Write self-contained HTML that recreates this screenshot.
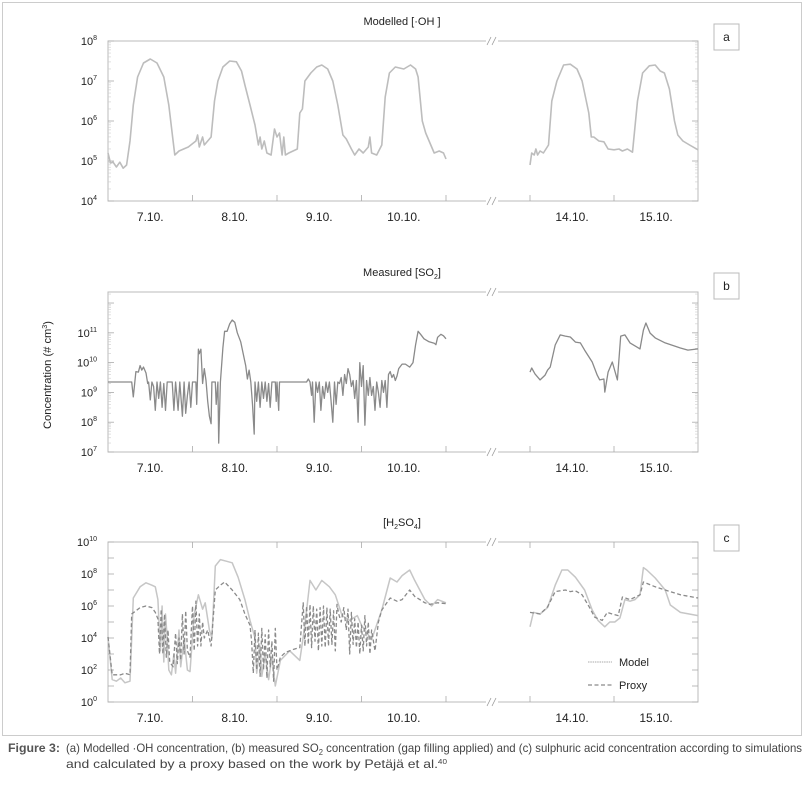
<!DOCTYPE html>
<html><head><meta charset="utf-8"><style>
html,body{margin:0;padding:0;background:#fff;}
body{width:804px;height:796px;overflow:hidden;font-family:"Liberation Sans Narrow","Liberation Sans",sans-serif;}
svg text{font-family:"Liberation Sans Narrow","Liberation Sans",sans-serif;fill:#222;}
</style></head><body>
<svg id="fig" width="804" height="796" viewBox="0 0 804 796" xmlns="http://www.w3.org/2000/svg">
<rect x="2.5" y="2.5" width="799" height="733" fill="none" stroke="#ccc"/>
<text x="8" y="752" font-size="12" font-weight="bold" textLength="52" lengthAdjust="spacingAndGlyphs" style="fill:#555">Figure 3:</text>
<text x="66" y="752" font-size="12" textLength="736" lengthAdjust="spacingAndGlyphs" style="fill:#444">(a) Modelled ·OH concentration, (b) measured SO<tspan font-size="8" dy="3">2</tspan><tspan dy="-3"> concentration (gap filling applied) and (c) sulphuric acid concentration according to simulations</tspan></text>
<text x="66" y="768" font-size="12" textLength="381" lengthAdjust="spacingAndGlyphs" style="fill:#444">and calculated by a proxy based on the work by Petäjä et al.<tspan font-size="7" dy="-4">40</tspan></text>
<text transform="translate(51,375) rotate(-90)" text-anchor="middle" font-size="11" textLength="108" lengthAdjust="spacingAndGlyphs">Concentration (# cm<tspan font-size="7" dy="-4">3</tspan><tspan dy="4">)</tspan></text>
<g id="panels"></g>
</svg>
<script>
// ---- data (t in days of October, values log10 concentration) ----
const dayLabels = ["7.10.","8.10.","9.10.","10.10.","14.10.","15.10."];
const dayLabelPos = [7.5,8.5,9.5,10.5,14.5,15.5];
const ohT1 = [7.00,7.03,7.06,7.10,7.14,7.18,7.22,7.26,7.30,7.35,7.42,7.50,7.58,7.66,7.72,7.77,7.79,7.84,7.95,8.04,8.06,8.08,8.12,8.14,8.20,8.22,8.26,8.30,8.36,8.44,8.52,8.58,8.62,8.68,8.74,8.78,8.80,8.82,8.85,8.88,8.93,8.97,9.00,9.03,9.06,9.08,9.10,9.14,9.24,9.27,9.30,9.33,9.40,9.47,9.53,9.60,9.66,9.72,9.78,9.82,9.88,9.92,9.97,10.02,10.08,10.10,10.12,10.18,10.24,10.28,10.33,10.40,10.50,10.58,10.64,10.67,10.72,10.76,10.80,10.86,10.92,10.97,11.00];
const ohV1 = [5.2,4.95,4.97,4.85,4.97,4.82,4.9,5.5,6.4,7.1,7.45,7.55,7.45,7.1,6.4,5.5,5.15,5.25,5.35,5.5,5.65,5.35,5.6,5.4,5.55,5.6,6.5,7.0,7.35,7.5,7.48,7.25,6.9,6.4,5.9,5.4,5.6,5.3,5.5,5.2,5.15,5.8,5.6,5.7,5.15,5.6,5.15,5.2,5.3,6.2,6.3,7.0,7.2,7.35,7.4,7.3,7.0,6.4,5.65,5.55,5.3,5.15,5.3,5.2,5.35,5.6,5.2,5.15,5.4,6.6,7.2,7.35,7.3,7.4,7.3,7.1,6.0,5.7,5.5,5.2,5.25,5.2,5.05];
const ohT2 = [14.00,14.02,14.05,14.07,14.09,14.12,14.16,14.22,14.26,14.32,14.40,14.48,14.56,14.62,14.70,14.73,14.76,14.82,14.88,14.93,15.00,15.06,15.10,15.16,15.22,15.28,15.34,15.42,15.49,15.55,15.60,15.66,15.72,15.76,15.82,15.90,16.00];
const ohV2 = [4.9,5.2,5.15,5.3,5.15,5.25,5.2,5.4,6.5,7.0,7.4,7.42,7.3,7.0,6.2,5.6,5.6,5.5,5.48,5.3,5.28,5.3,5.25,5.3,5.22,6.5,7.2,7.38,7.4,7.25,7.2,6.8,6.0,5.65,5.5,5.4,5.28];
const so2T1 = [7.00,7.28,7.30,7.33,7.36,7.38,7.40,7.42,7.45,7.47,7.48,7.50,7.52,7.54,7.56,7.58,7.60,7.62,7.64,7.66,7.68,7.70,7.76,7.78,7.80,7.83,7.85,7.88,7.90,7.92,7.94,7.96,7.98,8.00,8.04,8.05,8.07,8.08,8.10,8.12,8.14,8.16,8.18,8.20,8.22,8.23,8.27,8.28,8.30,8.31,8.33,8.36,8.38,8.41,8.44,8.47,8.50,8.53,8.57,8.60,8.63,8.65,8.67,8.69,8.71,8.73,8.74,8.76,8.78,8.80,8.82,8.84,8.86,8.88,8.90,8.92,8.94,8.98,8.99,9.00,9.02,9.03,9.35,9.37,9.39,9.41,9.42,9.44,9.46,9.48,9.50,9.52,9.54,9.56,9.58,9.60,9.62,9.64,9.66,9.68,9.70,9.72,9.74,9.76,9.78,9.80,9.82,9.84,9.86,9.88,9.90,9.92,9.94,9.96,9.98,10.00,10.02,10.04,10.06,10.08,10.10,10.12,10.14,10.16,10.18,10.20,10.22,10.24,10.26,10.28,10.30,10.32,10.34,10.36,10.38,10.40,10.42,10.44,10.48,10.52,10.57,10.61,10.64,10.67,10.70,10.74,10.80,10.86,10.88,10.90,10.94,10.97,11.00];
const so2V1 = [9.35,9.35,8.85,9.7,9.68,9.9,9.75,9.85,9.65,9.3,9.35,8.75,9.35,9.2,8.4,9.35,8.8,9.35,8.5,9.3,8.4,9.35,9.35,8.4,9.35,8.4,9.35,8.2,9.35,8.3,8.9,9.35,8.5,9.35,9.35,8.6,10.45,10.3,10.45,9.3,9.8,9.4,8.7,8.2,7.95,9.35,9.35,8.6,9.35,7.3,9.35,10.5,11.05,11.05,11.3,11.43,11.35,11.0,10.7,10.3,9.9,9.45,9.75,9.35,8.6,7.6,9.35,8.7,9.35,8.5,9.35,8.8,9.35,8.7,9.3,8.5,9.35,9.35,8.7,9.35,8.4,9.35,9.35,9.45,9.35,8.9,9.35,8.0,9.35,9.0,9.35,8.4,9.2,8.8,9.35,9.0,9.35,8.7,8.0,9.35,8.6,9.35,9.3,9.5,8.9,9.6,9.3,9.8,9.6,9.2,9.4,8.8,9.4,8.0,10.0,9.2,9.9,7.9,9.4,8.9,9.5,8.9,9.2,8.4,9.35,9.0,8.5,9.4,9.0,9.4,8.5,9.6,9.7,9.5,9.6,9.4,9.55,9.8,9.95,9.95,9.85,10.0,10.6,11.05,10.95,10.8,10.7,10.65,10.6,10.85,10.95,10.9,10.8];
const so2T2 = [14.00,14.02,14.06,14.12,14.18,14.21,14.24,14.30,14.36,14.42,14.48,14.54,14.60,14.65,14.74,14.80,14.83,14.88,14.89,14.93,14.98,15.04,15.08,15.13,15.19,15.31,15.35,15.38,15.43,15.49,15.61,15.79,15.88,16.00];
const so2V2 = [9.68,9.82,9.62,9.42,9.58,9.75,9.85,10.59,10.93,10.89,10.86,10.69,10.66,10.42,10.02,9.58,9.42,9.45,9.01,9.68,10.02,9.42,10.89,10.93,10.66,10.46,11.09,11.33,10.99,10.83,10.66,10.49,10.42,10.46];
const modelT1 = [7.00,7.05,7.10,7.15,7.20,7.26,7.30,7.38,7.45,7.52,7.56,7.59,7.62,7.64,7.66,7.68,7.70,7.72,7.75,7.78,7.80,7.84,7.86,7.90,7.94,7.97,8.02,8.07,8.12,8.15,8.20,8.23,8.27,8.33,8.40,8.47,8.54,8.62,8.68,8.74,8.76,8.80,8.82,8.86,8.90,8.94,8.98,9.04,9.15,9.27,9.33,9.39,9.46,9.53,9.62,9.69,9.77,9.86,9.95,10.00,10.12,10.24,10.34,10.42,10.48,10.57,10.63,10.75,10.83,10.90,11.00];
const modelV1 = [4.06,1.4,1.3,1.5,1.2,1.3,6.5,7.2,7.45,7.3,7.2,6.4,3.2,6.0,2.5,5.5,4.0,2.0,1.7,3.0,1.8,4.5,2.2,4.0,2.0,1.9,5.5,6.7,5.8,6.2,4.5,4.0,8.5,8.9,8.8,8.7,7.8,6.4,5.1,4.0,1.8,3.5,1.6,3.0,1.4,2.8,1.0,2.6,3.2,2.6,4.8,7.6,7.0,7.6,7.2,6.7,5.4,5.1,5.4,4.8,3.9,5.75,7.75,7.5,7.9,8.25,7.6,6.4,6.0,6.4,6.2];
const proxyT1 = [7.00,7.05,7.15,7.20,7.26,7.28,7.38,7.45,7.52,7.56,7.59,7.61,7.63,7.65,7.67,7.69,7.71,7.73,7.77,7.80,7.82,7.84,7.86,7.88,7.90,7.92,7.94,7.97,8.00,8.02,8.04,8.06,8.08,8.10,8.12,8.14,8.18,8.22,8.27,8.33,8.38,8.47,8.56,8.62,8.68,8.70,8.72,8.74,8.76,8.78,8.80,8.82,8.84,8.86,8.88,8.90,8.92,8.94,8.96,8.98,9.00,9.04,9.10,9.20,9.27,9.31,9.33,9.35,9.37,9.39,9.41,9.43,9.45,9.47,9.49,9.51,9.53,9.55,9.57,9.59,9.61,9.63,9.65,9.67,9.69,9.71,9.73,9.76,9.79,9.82,9.84,9.86,9.88,9.90,9.92,9.94,9.96,9.98,10.00,10.02,10.04,10.06,10.08,10.10,10.12,10.16,10.20,10.24,10.34,10.42,10.48,10.57,10.63,10.69,10.75,10.81,10.90,11.00];
const proxyV1 = [4.06,1.7,1.7,1.8,1.7,5.5,5.9,6.0,5.9,5.6,5.2,3.0,5.8,3.0,5.5,2.8,4.5,2.5,2.2,4.3,2.4,4.0,2.6,5.5,3.0,5.7,3.2,2.8,6.0,3.2,6.3,3.5,5.5,3.5,5.0,4.0,4.5,3.5,7.0,7.3,7.5,7.0,6.4,5.5,4.8,3.8,1.8,4.5,2.0,4.3,1.6,4.6,2.0,4.2,1.5,4.5,2.2,3.8,1.3,4.6,2.0,2.8,3.1,3.3,3.4,6.2,3.5,6.0,3.6,6.1,3.4,6.0,3.8,5.8,3.2,5.9,3.5,6.0,3.4,5.9,3.5,5.8,3.6,5.7,3.2,6.1,5.5,5.0,5.9,4.5,5.8,3.0,5.6,3.6,5.2,3.4,5.0,3.0,4.8,3.2,5.4,3.5,5.0,3.0,4.5,3.2,5.0,5.75,6.5,6.3,6.4,7.0,6.6,6.4,6.2,6.1,6.2,6.15];
const modelT2 = [14.00,14.04,14.12,14.21,14.30,14.38,14.45,14.54,14.65,14.74,14.81,14.89,14.95,15.01,15.07,15.13,15.19,15.25,15.31,15.35,15.39,15.49,15.61,15.67,15.79,16.00];
const modelV2 = [4.7,5.6,5.5,5.9,7.3,8.25,8.25,7.8,7.0,5.75,5.1,4.7,5.0,5.0,5.25,6.4,6.3,6.4,6.7,8.4,8.25,7.75,7.0,6.06,5.6,5.4];
const proxyT2 = [14.00,14.12,14.21,14.30,14.42,14.48,14.54,14.62,14.71,14.77,14.86,14.92,14.98,15.05,15.10,15.19,15.31,15.35,15.49,15.61,15.79,16.00];
const proxyV2 = [5.6,5.5,5.95,6.9,7.0,6.9,6.95,6.7,5.9,5.3,5.1,5.6,5.5,5.4,6.56,6.4,6.7,7.5,7.2,7.0,6.7,6.5];

const NS = "http://www.w3.org/2000/svg";
const X0 = 108, X1 = 698;
function xScale(t){ return t < 12 ? 108 + (t - 7) * 84.5 : 530 + (t - 14) * 84; }
const root = document.getElementById('panels');
function mk(tag, attrs, parent){ const e = document.createElementNS(NS, tag); for (const k in attrs) e.setAttribute(k, attrs[k]); (parent||root).appendChild(e); return e; }

const panels = [
  {id:'a', top:41, bot:201, lo:4, hi:8, title:'Modelled [·OH ]', labs:[4,5,6,7,8], minor:true, boxY:24},
  {id:'b', top:292, bot:452, lo:7, hi:12.37, title:'Measured [SO2]', labs:[7,8,9,10,11], minor:true, boxY:273},
  {id:'c', top:542, bot:702, lo:0, hi:10, title:'[H2SO4]', labs:[0,2,4,6,8,10], minor:false, boxY:525}
];
panels.forEach(p => {
  const g = mk('g', {});
  
  
  p.y = v => p.bot - (v - p.lo) / (p.hi - p.lo) * (p.bot - p.top);
  const fr = mk('rect', {x:X0, y:p.top, width:X1-X0, height:p.bot-p.top, fill:'none', stroke:'#bbb', 'stroke-width':1}, g);
  
  
  for (let d = Math.ceil(p.lo); d <= Math.floor(p.hi); d++) {
    [X0, X1].forEach((bx, side) => {
      const dir = side ? -1 : 1;
      const yy = p.y(d);
      mk('line', {x1:bx, x2:bx+dir*6, y1:yy, y2:yy, stroke:'#aaa', 'stroke-width':0.8}, g);
      if (p.minor) {
        for (let m = 2; m < 10; m++) {
          const v = d + Math.log10(m);
          if (v < p.hi) { const ym = p.y(v); mk('line', {x1:bx, x2:bx+dir*3, y1:ym, y2:ym, stroke:'#ccc', 'stroke-width':0.6}, g); }
        }
      }
    });
  }
  p.labs.forEach(d => {
    const t = mk('text', {x:97, y:p.y(d)+4, 'text-anchor':'end', 'font-size':11}, g);
    
    
    t.textContent = '10';
    const s = mk('tspan', {'font-size':7, dy:-5}, t); s.textContent = String(d);
  });
  [8,9,10,11,14,15].forEach(t => {
    const xx = xScale(t);
    mk('line', {x1:xx, x2:xx, y1:p.bot, y2:p.bot-6, stroke:'#aaa', 'stroke-width':0.8}, g);
    if (p.id === 'c') mk('line', {x1:xx, x2:xx, y1:p.top, y2:p.top+6, stroke:'#aaa', 'stroke-width':0.8}, g);
  });
  dayLabels.forEach((lab, i) => {
    const t = mk('text', {x:xScale(dayLabelPos[i]), y:p.bot+20, 'text-anchor':'middle', 'font-size':12}, g);
    
    
    t.textContent = lab;
  });
  [p.top, p.bot].forEach(yy => {
    mk('rect', {x:486, y:yy-3, width:12, height:6, fill:'#fff'}, g);
    mk('line', {x1:487, x2:491, y1:yy+4, y2:yy-4, stroke:'#999', 'stroke-width':0.8}, g);
    mk('line', {x1:492, x2:496, y1:yy+4, y2:yy-4, stroke:'#999', 'stroke-width':0.8}, g);
  });
  const tt = mk('text', {x:402, y:p.top-16, 'text-anchor':'middle', 'font-size':11}, g);
  
  
  if (p.id === 'a') tt.textContent = p.title;
  else if (p.id === 'b') { tt.textContent = 'Measured [SO'; const s = mk('tspan', {'font-size':7, dy:3}, tt); s.textContent='2'; const s2 = mk('tspan', {dy:-3}, tt); s2.textContent=']'; }
  else { tt.textContent = '[H'; const s = mk('tspan', {'font-size':7, dy:3}, tt); s.textContent='2'; const s2 = mk('tspan', {dy:-3}, tt); s2.textContent='SO'; const s3 = mk('tspan', {'font-size':7, dy:3}, tt); s3.textContent='4'; const s4 = mk('tspan', {dy:-3}, tt); s4.textContent=']'; }
  const bx = mk('rect', {x:714, y:p.boxY, width:25, height:26, fill:'#fff', stroke:'#bbb', 'stroke-width':1}, g);
  
  
  const bt = mk('text', {x:726.5, y:p.boxY+17, 'text-anchor':'middle', 'font-size':12}, g);
  
  
  bt.textContent = p.id;
});

function line(p, T, V, style, name){
  const d = T.map((t, i) => (i ? 'L' : 'M') + xScale(t).toFixed(1) + ',' + p.y(V[i]).toFixed(1)).join('');
  const e = mk('path', Object.assign({d:d, fill:'none', 'stroke-linejoin':'round'}, style));
  
  
}
const pa = panels[0], pb = panels[1], pc = panels[2];
const ohS = {stroke:'#bdbdbd', 'stroke-width':1.6};
line(pa, ohT1, ohV1, ohS, 'oh-series-segment-1');
line(pa, ohT2, ohV2, ohS, 'oh-series-segment-2');
const so2S = {stroke:'#8a8a8a', 'stroke-width':1.3};
line(pb, so2T1, so2V1, so2S, 'so2-series-segment-1');
line(pb, so2T2, so2V2, so2S, 'so2-series-segment-2');
const mS = {stroke:'#c6c6c6', 'stroke-width':1.5};
const pS = {stroke:'#8a8a8a', 'stroke-width':1.3, 'stroke-dasharray':'4,2.5'};
line(pc, modelT1, modelV1, mS, 'model-series-segment-1');
line(pc, modelT2, modelV2, mS, 'model-series-segment-2');
line(pc, proxyT1, proxyV1, pS, 'proxy-series-segment-1');
line(pc, proxyT2, proxyV2, pS, 'proxy-series-segment-2');

const lg = mk('g', {});


const l1 = mk('line', {x1:588, x2:612, y1:662, y2:662, stroke:'#c6c6c6', 'stroke-width':1.5, 'stroke-dasharray':'1.5,0.8'}, lg);


const t1 = mk('text', {x:619, y:666, 'font-size':11}, lg);


t1.textContent = 'Model';
const l2 = mk('line', {x1:588, x2:612, y1:685, y2:685, stroke:'#8a8a8a', 'stroke-width':1.3, 'stroke-dasharray':'4,2.5'}, lg);


const t2 = mk('text', {x:619, y:689, 'font-size':11}, lg);


t2.textContent = 'Proxy';
</script>
</body></html>
